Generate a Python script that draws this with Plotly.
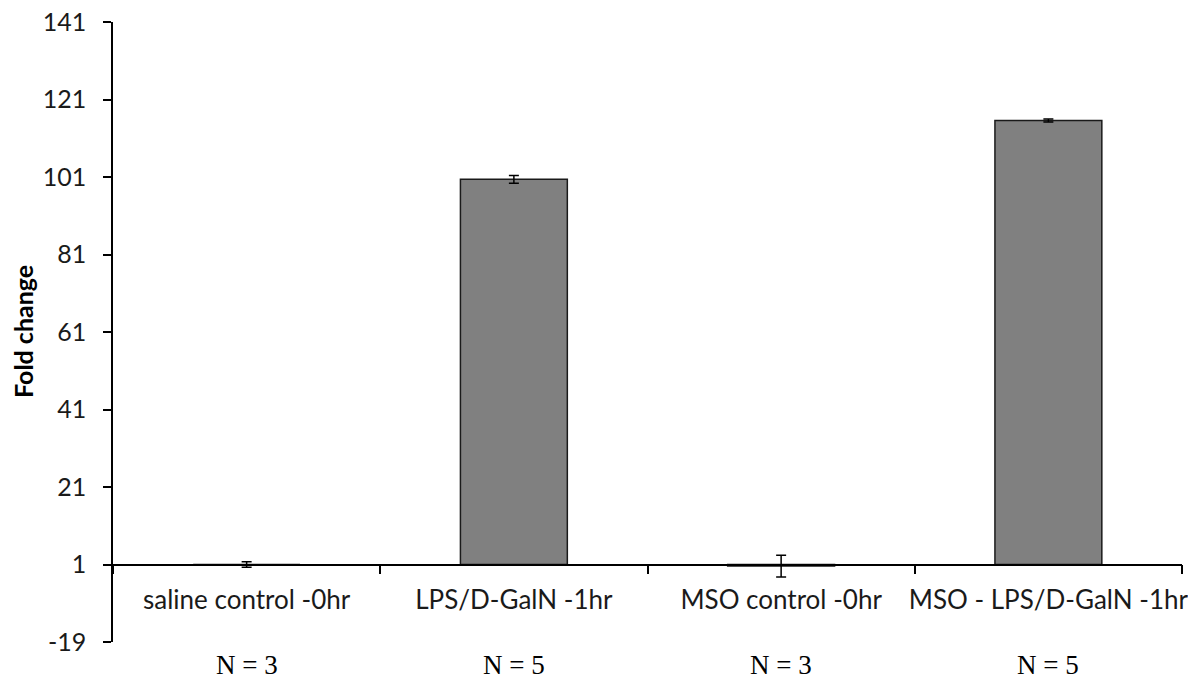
import plotly.graph_objects as go

categories = ["saline control -0hr", "LPS/D-GalN -1hr", "MSO control -0hr", "MSO - LPS/D-GalN -1hr"]
fold_change = [1.0, 100.4, 0.6, 115.6]
error = [0.7, 1.0, 2.8, 0.4]
n_labels = ["N = 3", "N = 5", "N = 3", "N = 5"]
axis_cross = 1
y_min, y_max, y_step = -19, 141, 20
y_ticks = list(range(y_min, y_max + 1, y_step))

fig = go.Figure()
fig.add_trace(go.Bar(
    x=categories,
    y=[v - axis_cross for v in fold_change],
    base=axis_cross,
    width=0.4,
    marker=dict(color="#808080", line=dict(color="#1a1a1a", width=1.5)),
    error_y=dict(type="data", array=error, color="black", thickness=1.5, width=5),
))

for cat, lab in zip(categories, n_labels):
    fig.add_annotation(x=cat, y=0, xref="x", yref="paper", text=lab, showarrow=False,
                       yanchor="middle", yshift=-23,
                       font=dict(family="Liberation Serif", size=27, color="black"))

fig.add_annotation(x=0, y=0.5, xref="paper", yref="paper", text="<b>Fold change</b>",
                   textangle=-90, showarrow=False, xshift=-90, xanchor="center", yanchor="middle",
                   font=dict(family="Lato", size=25, color="black"))

fig.update_layout(
    width=1188, height=681,
    margin=dict(l=113, r=6, t=22, b=39, autoexpand=False),
    plot_bgcolor="white", paper_bgcolor="white",
    showlegend=False,
    font=dict(family="Lato", color="#1a1a1a"),
    xaxis=dict(
        type="category", range=[-0.5, 3.5],
        anchor="free", position=(axis_cross - y_min) / (y_max - y_min),
        showline=True, linecolor="black", linewidth=1.5,
        ticks="outside", tickson="boundaries", ticklen=9, tickcolor="black", tickwidth=1.5,
        ticklabelstandoff=13, tickangle=0, automargin=False,
        tickfont=dict(family="Lato", size=26, color="#1a1a1a"),
        showgrid=False, zeroline=False,
    ),
    yaxis=dict(
        range=[y_min, y_max], tickvals=y_ticks, ticktext=[str(v) for v in y_ticks],
        showline=True, linecolor="black", linewidth=1.5,
        ticks="outside", ticklen=8, tickcolor="black", tickwidth=1.5,
        ticklabelstandoff=12, automargin=False,
        tickfont=dict(family="Lato", size=25, color="#1a1a1a"),
        showgrid=False, zeroline=False,
    ),
)

fig.write_html("out.html")
